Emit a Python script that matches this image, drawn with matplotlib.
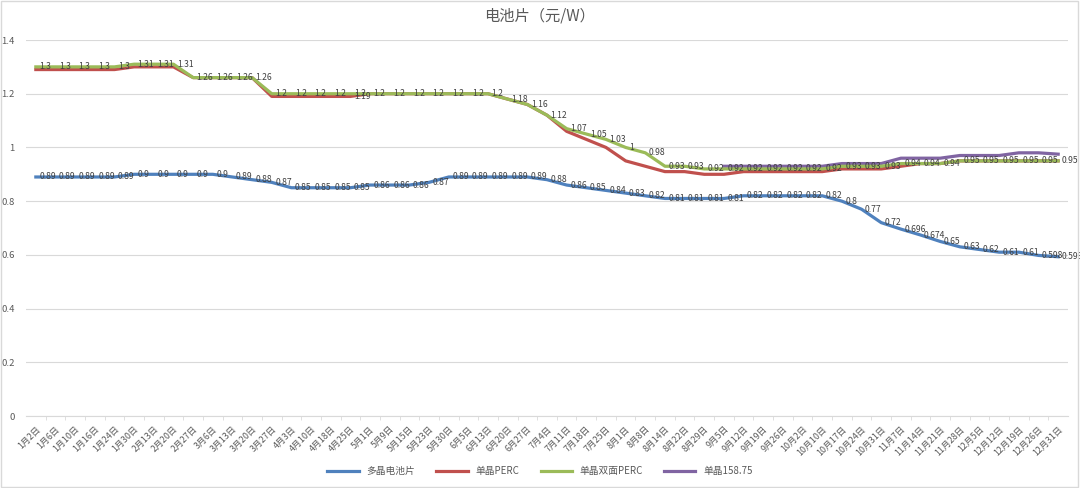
import matplotlib.pyplot as plt
import numpy as np
from matplotlib.patches import Rectangle

plt.rcParams['font.family'] = ['Noto Sans CJK SC', 'DejaVu Sans']

dates = ['1月2日', '1月6日', '1月10日', '1月16日', '1月24日', '1月30日',
         '2月13日', '2月20日', '2月27日',
         '3月6日', '3月13日', '3月20日', '3月27日',
         '4月3日', '4月10日', '4月18日', '4月25日',
         '5月1日', '5月9日', '5月15日', '5月23日', '5月30日',
         '6月5日', '6月13日', '6月20日', '6月27日',
         '7月4日', '7月11日', '7月18日', '7月25日',
         '8月1日', '8月8日', '8月14日', '8月22日', '8月29日',
         '9月5日', '9月12日', '9月19日', '9月26日',
         '10月2日', '10月10日', '10月17日', '10月24日', '10月31日',
         '11月7日', '11月14日', '11月21日', '11月28日',
         '12月5日', '12月12日', '12月19日', '12月26日', '12月31日']

poly = [0.89, 0.89, 0.89, 0.89, 0.89, 0.9, 0.9, 0.9, 0.9, 0.9,
        0.89, 0.88, 0.87, 0.85, 0.85, 0.85, 0.85, 0.86, 0.86, 0.86,
        0.87, 0.89, 0.89, 0.89, 0.89, 0.89, 0.88, 0.86, 0.85, 0.84,
        0.83, 0.82, 0.81, 0.81, 0.81, 0.81, 0.82, 0.82, 0.82, 0.82,
        0.82, 0.8, 0.77, 0.72, 0.696, 0.674, 0.65, 0.63, 0.62, 0.61,
        0.61, 0.598, 0.593]

perc = [1.29, 1.29, 1.29, 1.29, 1.29, 1.30, 1.30, 1.30, 1.26, 1.26,
        1.26, 1.26, 1.19, 1.19, 1.19, 1.19, 1.19, 1.2, 1.2, 1.2,
        1.2, 1.2, 1.2, 1.2, 1.18, 1.16, 1.12, 1.06, 1.03, 1.0,
        0.95, 0.93, 0.91, 0.91, 0.90, 0.90, 0.91, 0.91, 0.91, 0.91,
        0.91, 0.92, 0.92, 0.92, 0.93, 0.94, 0.94, 0.95, 0.95, 0.95,
        0.95, 0.95, 0.95]

bifacial = [1.3, 1.3, 1.3, 1.3, 1.3, 1.31, 1.31, 1.31, 1.26, 1.26,
            1.26, 1.26, 1.2, 1.2, 1.2, 1.2, 1.2, 1.2, 1.2, 1.2,
            1.2, 1.2, 1.2, 1.2, 1.18, 1.16, 1.12, 1.07, 1.05, 1.03,
            1.0, 0.98, 0.93, 0.93, 0.92, 0.92, 0.92, 0.92, 0.92, 0.92,
            0.92, 0.93, 0.93, 0.93, 0.94, 0.94, 0.94, 0.95, 0.95, 0.95,
            0.95, 0.95, 0.95]

# 单晶158.75 only starts in September
mono158 = [np.nan] * 35 + [0.93, 0.93, 0.93, 0.93, 0.93, 0.93, 0.94, 0.94,
                           0.94, 0.96, 0.96, 0.96, 0.97, 0.97, 0.97, 0.98,
                           0.98, 0.975]

series_names = ['多晶电池片', '单晶PERC', '单晶双面PERC', '单晶158.75']
colors = ['#4f81bd', '#c0504d', '#9bbb59', '#8064a2']

fig = plt.figure(figsize=(10.8, 4.88), dpi=100)
ax = fig.add_axes([26 / 1080, 0.1475, 1042 / 1080, 0.7705])
fig.patches.append(Rectangle((0.001, 0.002), 0.997, 0.996, transform=fig.transFigure,
                             fill=False, edgecolor='#d9d9d9', linewidth=1))

x = np.arange(len(dates))
ax.plot(x, poly, color=colors[0], lw=2.3, label=series_names[0], zorder=3)
ax.plot(x, perc, color=colors[1], lw=2.3, label=series_names[1], zorder=3)
ax.plot(x, bifacial, color=colors[2], lw=2.3, label=series_names[2], zorder=4)
ax.plot(x, mono158, color=colors[3], lw=2.3, label=series_names[3], zorder=2)

# data labels (right of point)
lab_kw = dict(textcoords='offset points', xytext=(2.5, 0), ha='left', va='center',
              fontsize=6.2, color='#404040', zorder=6)
for i, v in enumerate(poly):
    ax.annotate(f'{v:g}', (x[i], v), **lab_kw)
for i, v in enumerate(bifacial):
    ax.annotate(f'{v:g}', (x[i], v), **lab_kw)
ax.annotate(f'{perc[16]:g}', (x[16], perc[16]), **lab_kw)

ax.set_xlim(-0.5, len(dates) - 0.5)
ax.set_ylim(0, 1.4)
ax.set_yticks(np.arange(0, 1.41, 0.2))
ax.set_yticklabels([f'{v:g}' for v in np.round(np.arange(0, 1.41, 0.2), 1)],
                   fontsize=6.8, color='#595959')
ax.set_xticks(x)
ax.set_xticklabels(dates, rotation=45, ha='right', rotation_mode='anchor',
                   fontsize=6.4, color='#595959')
ax.set_xticks(x[:-1] + 0.5, minor=True)
ax.tick_params(axis='x', which='major', length=0, pad=6)
ax.tick_params(axis='x', which='minor', length=3, color='#d9d9d9')
ax.tick_params(axis='y', length=0, pad=8)

ax.grid(axis='y', color='#d9d9d9', linewidth=0.8)
ax.set_axisbelow(True)
for side in ['top', 'right', 'left']:
    ax.spines[side].set_visible(False)
ax.spines['bottom'].set_color('#d9d9d9')

fig.suptitle('电池片（元/W）', y=0.985, fontsize=11, color='#595959')

fig.legend(loc='center', bbox_to_anchor=(0.5, 0.035), ncol=4, frameon=False,
           fontsize=7, handlelength=3.2, columnspacing=2.2,
           labelcolor='#595959')

fig.savefig('out.png', dpi=100)
